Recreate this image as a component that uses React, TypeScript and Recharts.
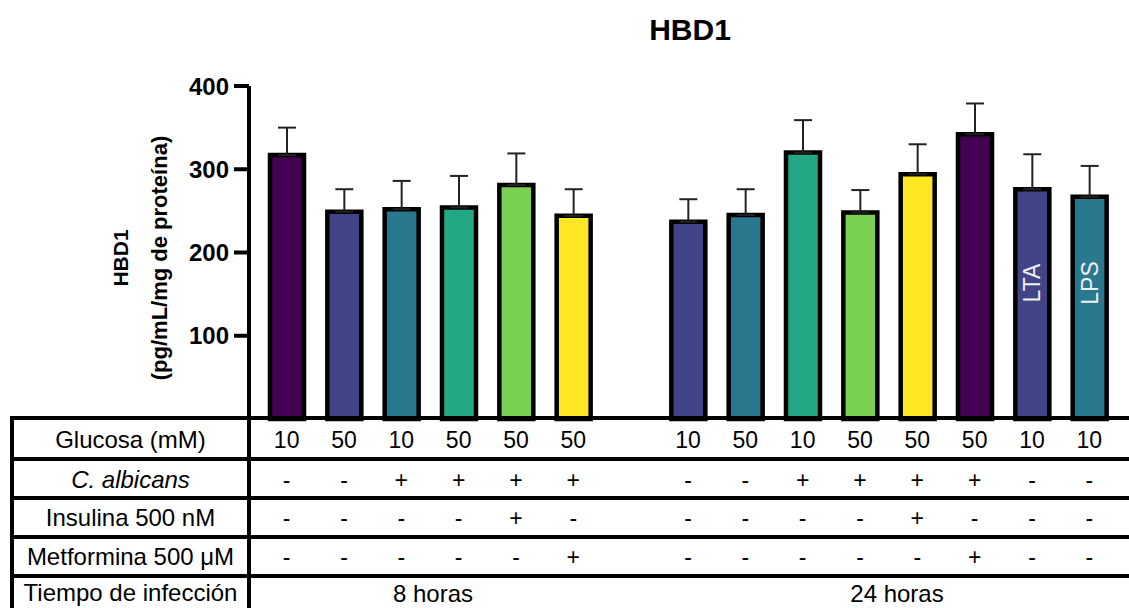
import { Bar, BarChart, Cell, ErrorBar, LabelList, XAxis, YAxis } from 'recharts'

const FONT = "'Liberation Sans', Arial, sans-serif"

// 15 slots: 6 bars at 8 h, an empty spacer, 8 bars at 24 h
const slotKeys = ['a1', 'a2', 'a3', 'a4', 'a5', 'a6', 'gap', 'b1', 'b2', 'b3', 'b4', 'b5', 'b6', 'b7', 'b8']
const hbd1 = [317, 249, 252, 254, 281, 244, null, 237, 245, 320, 248, 294, 342, 276, 267]
const sem = [33, 27, 34, 38, 38, 32, null, 27, 31, 39, 27, 36, 37, 42, 37]
const barColors = [
  '#440154', '#414487', '#2a788e', '#22a884', '#7ad151', '#fde725', '#ffffff',
  '#414487', '#2a788e', '#22a884', '#7ad151', '#fde725', '#440154', '#414487', '#2a788e',
]
const innerLabels = ['', '', '', '', '', '', '', '', '', '', '', '', '', 'LTA', 'LPS']

const glucosa = ['10', '50', '10', '50', '50', '50', '', '10', '50', '10', '50', '50', '50', '10', '10']
const albicans = ['-', '-', '+', '+', '+', '+', '', '-', '-', '+', '+', '+', '+', '-', '-']
const insulina = ['-', '-', '-', '-', '+', '-', '', '-', '-', '-', '-', '+', '-', '-', '-']
const metformina = ['-', '-', '-', '-', '-', '+', '', '-', '-', '-', '-', '-', '+', '-', '-']

const rowLabels = ['Glucosa (mM)', 'C. albicans', 'Insulina 500 nM', 'Metformina 500 \u03bcM', 'Tiempo de infecci\u00f3n']
const timeLabels = ['8 horas', '24 horas']
const yTicks = [100, 200, 300, 400]

const chartData = slotKeys.map((key, i) => ({
  key,
  value: hbd1[i],
  err: sem[i] == null ? null : [0, sem[i]],
  inner: innerLabels[i],
}))

const rowOffsets = [21, 61, 99, 138]

const TableTick = (props: any) => {
  const { x, y, payload } = props
  const i = slotKeys.indexOf(payload.value)
  if (i < 0 || glucosa[i] === '') return null
  const cells = [glucosa[i], albicans[i], insulina[i], metformina[i]]
  return (
    <g>
      {cells.map((t, r) => (
        <text
          key={r}
          x={x}
          y={y + rowOffsets[r]}
          textAnchor="middle"
          dominantBaseline="central"
          fontSize={23}
          fontFamily={FONT}
          fill="#000"
        >
          {t}
        </text>
      ))}
    </g>
  )
}

const InnerLabel = (props: any) => {
  const { x, y, width, height, value } = props
  if (!value) return null
  const cx = x + width / 2
  const cy = y + height - 136
  return (
    <text
      x={cx}
      y={cy}
      transform={`rotate(-90, ${cx}, ${cy})`}
      textAnchor="middle"
      dominantBaseline="central"
      fontSize={23}
      fontFamily={FONT}
      fill="#eeeeee"
    >
      {value}
    </text>
  )
}

const YLabel = () => (
  <g transform="rotate(-90, 140, 258)">
    <text x={140} y={238} textAnchor="middle" dominantBaseline="central" fontSize={21} fontWeight="bold" fontFamily={FONT}>
      HBD1
    </text>
    <text x={140} y={277} textAnchor="middle" dominantBaseline="central" fontSize={22} fontWeight="bold" fontFamily={FONT}>
      (pg/mL/mg de proteína)
    </text>
  </g>
)

const hLines = [
  { top: 416, h: 4 },
  { top: 457, h: 3.5 },
  { top: 496, h: 3.5 },
  { top: 535, h: 3.5 },
  { top: 574, h: 4 },
]
const rowCenters = [440, 480, 518, 557, 593]

export default function App() {
  return (
    <div style={{ position: 'absolute', left: 0, top: 0, width: 1129, height: 608, background: '#fff', fontFamily: FONT, overflow: 'hidden' }}>
      <div style={{ position: 'absolute', left: 590, width: 200, top: 12, textAlign: 'center', fontSize: 30, fontWeight: 'bold', lineHeight: '36px' }}>
        HBD1
      </div>
      <BarChart
        width={1129}
        height={608}
        data={chartData}
        margin={{ top: 86, right: 3, bottom: 0, left: 0 }}
        barSize={34}
      >
        <XAxis
          dataKey="key"
          interval={0}
          height={189}
          axisLine={false}
          tickLine={false}
          tickSize={0}
          tickMargin={0}
          padding={{ left: 9, right: 8 }}
          tick={<TableTick />}
        />
        <YAxis
          width={249}
          domain={[0, 400]}
          ticks={yTicks}
          interval={0}
          axisLine={{ stroke: '#000', strokeWidth: 4 }}
          tickLine={{ stroke: '#000', strokeWidth: 4 }}
          tickSize={15}
          tickMargin={5}
          tick={{ fill: '#000', fontSize: 24, fontWeight: 'bold', fontFamily: FONT }}
          label={{ content: () => <YLabel /> }}
        />
        <Bar dataKey="value" stroke="#000" strokeWidth={4.5} isAnimationActive={false}>
          {chartData.map((d, i) => (
            <Cell key={d.key} fill={barColors[i]} />
          ))}
          <ErrorBar dataKey="err" width={9} stroke="#222" strokeWidth={2} direction="y" />
          <LabelList dataKey="inner" content={<InnerLabel />} />
        </Bar>
      </BarChart>
      {hLines.map((l, i) => (
        <div key={i} style={{ position: 'absolute', left: 10, right: 0, top: l.top, height: l.h, background: '#000' }} />
      ))}
      <div style={{ position: 'absolute', left: 10, width: 4, top: 416, bottom: 0, background: '#000' }} />
      <div style={{ position: 'absolute', left: 247, width: 4, top: 416, bottom: 0, background: '#000' }} />
      {rowLabels.map((t, i) => (
        <div
          key={t}
          style={{
            position: 'absolute',
            left: 14,
            width: 233,
            top: rowCenters[i] - 15,
            height: 30,
            lineHeight: '30px',
            textAlign: 'center',
            fontSize: 24,
            fontStyle: i === 1 ? 'italic' : 'normal',
            whiteSpace: 'nowrap',
          }}
        >
          {t}
        </div>
      ))}
      {timeLabels.map((t, i) => (
        <div
          key={t}
          style={{
            position: 'absolute',
            left: (i === 0 ? 433 : 897) - 80,
            width: 160,
            top: 580,
            height: 28,
            lineHeight: '28px',
            textAlign: 'center',
            fontSize: 24,
            whiteSpace: 'nowrap',
          }}
        >
          {t}
        </div>
      ))}
    </div>
  )
}
